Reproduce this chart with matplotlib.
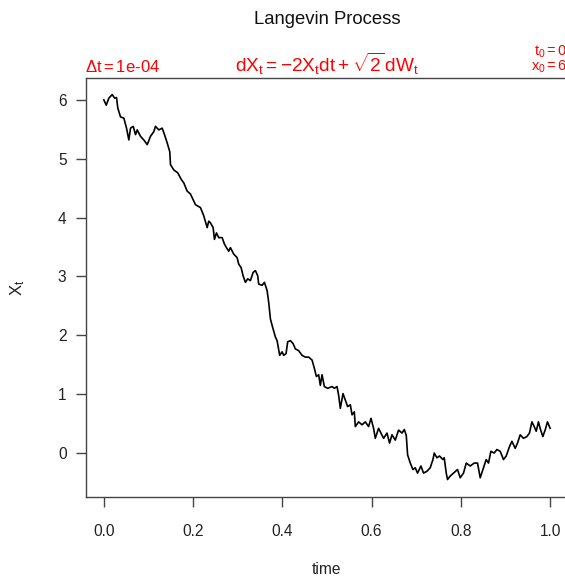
import matplotlib
matplotlib.use("Agg")
import matplotlib.pyplot as plt

plt.rcParams['font.family'] = ['Liberation Sans', 'DejaVu Sans']
plt.rcParams['mathtext.fontset'] = 'custom'
plt.rcParams['mathtext.rm'] = 'Liberation Sans'
plt.rcParams['mathtext.it'] = 'Liberation Sans'
plt.rcParams['mathtext.bf'] = 'Liberation Sans:bold'

# Simulated Langevin path (time, X_t)
time = [0.000, 0.0054, 0.0112, 0.0188, 0.0240, 0.0284, 0.0313, 0.0374, 0.0448, 0.0508,
        0.0560, 0.0598, 0.0658, 0.0710, 0.0748, 0.0822, 0.0895, 0.0972, 0.1045, 0.1119,
        0.1157, 0.1231, 0.1307, 0.1359, 0.1419, 0.1477, 0.1493, 0.1567, 0.1657, 0.1733,
        0.1791, 0.1867, 0.1941, 0.2053, 0.2165, 0.2239, 0.2315, 0.2351, 0.2389, 0.2449,
        0.2478, 0.2523, 0.2574, 0.2651, 0.2702, 0.2747, 0.2798, 0.2836, 0.2910, 0.2986,
        0.3022, 0.3076, 0.3121, 0.3172, 0.3224, 0.3284, 0.3345, 0.3396, 0.3448, 0.3470,
        0.3546, 0.3598, 0.3658, 0.3694, 0.3732, 0.3770, 0.3844, 0.3882, 0.3940, 0.3994,
        0.4030, 0.4083, 0.4119, 0.4180, 0.4240, 0.4291, 0.4365, 0.4441, 0.4515, 0.4589,
        0.4665, 0.4717, 0.4762, 0.4813, 0.4851, 0.4889, 0.4941, 0.5015, 0.5113, 0.5165,
        0.5225, 0.5261, 0.5299, 0.5359, 0.5411, 0.5462, 0.5523, 0.5561, 0.5612, 0.5635,
        0.5709, 0.5785, 0.5859, 0.5932, 0.5986, 0.6044, 0.6082, 0.6156, 0.6210, 0.6268,
        0.6344, 0.6402, 0.6456, 0.6530, 0.6604, 0.6680, 0.6732, 0.6776, 0.6806, 0.6866,
        0.6926, 0.6977, 0.7029, 0.7105, 0.7163, 0.7239, 0.7313, 0.7374, 0.7403, 0.7463,
        0.7521, 0.7598, 0.7627, 0.7672, 0.7701, 0.7761, 0.7835, 0.7925, 0.7985, 0.8059,
        0.8120, 0.8209, 0.8299, 0.8373, 0.8433, 0.8494, 0.8567, 0.8619, 0.8672, 0.8746,
        0.8807, 0.8881, 0.8955, 0.9016, 0.9089, 0.9143, 0.9217, 0.9269, 0.9329, 0.9403,
        0.9479, 0.9537, 0.9591, 0.9643, 0.9688, 0.9738, 0.9776, 0.9836, 0.9888, 0.9940,
        1.0000]
x_t = [6.00, 5.91, 6.03, 6.09, 6.03, 6.04, 5.86, 5.71, 5.69, 5.52,
       5.32, 5.52, 5.55, 5.41, 5.49, 5.38, 5.32, 5.24, 5.38, 5.46,
       5.55, 5.49, 5.52, 5.41, 5.27, 5.12, 4.90, 4.81, 4.76, 4.65,
       4.59, 4.45, 4.40, 4.22, 4.17, 4.03, 3.83, 3.94, 3.91, 3.83,
       3.63, 3.74, 3.66, 3.66, 3.55, 3.49, 3.43, 3.49, 3.38, 3.32,
       3.21, 3.15, 3.01, 2.90, 2.96, 2.93, 3.07, 3.10, 3.01, 2.87,
       2.85, 2.90, 2.76, 2.56, 2.28, 2.17, 1.97, 1.91, 1.66, 1.72,
       1.66, 1.69, 1.89, 1.91, 1.86, 1.77, 1.74, 1.66, 1.63, 1.63,
       1.58, 1.44, 1.30, 1.33, 1.15, 1.33, 1.13, 1.10, 1.13, 1.10,
       1.13, 0.98, 0.76, 1.01, 0.90, 0.79, 0.82, 0.65, 0.70, 0.45,
       0.53, 0.48, 0.53, 0.45, 0.59, 0.42, 0.25, 0.42, 0.34, 0.25,
       0.34, 0.17, 0.31, 0.22, 0.39, 0.34, 0.40, 0.30, -0.03, -0.17,
       -0.28, -0.25, -0.34, -0.22, -0.34, -0.31, -0.25, -0.11, 0.00, -0.08,
       -0.05, -0.11, -0.08, -0.34, -0.45, -0.39, -0.34, -0.28, -0.42, -0.34,
       -0.17, -0.22, -0.17, -0.17, -0.42, -0.28, -0.11, -0.17, 0.03, 0.00,
       0.06, 0.03, -0.11, -0.05, 0.11, 0.20, 0.08, 0.17, 0.31, 0.25,
       0.28, 0.34, 0.53, 0.45, 0.37, 0.53, 0.42, 0.28, 0.39, 0.53,
       0.42]

x_ticks = [0.0, 0.2, 0.4, 0.6, 0.8, 1.0]
x_tick_labels = ['0.0', '0.2', '0.4', '0.6', '0.8', '1.0']
y_ticks = [0, 1, 2, 3, 4, 5, 6]

fig = plt.figure(figsize=(5.65, 5.80), dpi=100)
ax = fig.add_axes([0.1522, 0.1436, 0.8531, 0.7219])

ax.plot(time, x_t, color='black', linewidth=1.2)

# R-style 4% padding around the data range
xmin, xmax = min(time), max(time)
ymin, ymax = min(x_t), max(x_t)
xpad = 0.04 * (xmax - xmin)
ypad = 0.04 * (ymax - ymin)
ax.set_xlim(xmin - xpad, xmax + xpad)
ax.set_ylim(ymin - ypad - 0.03, ymax + ypad + 0.02)

ax.set_xticks(x_ticks)
ax.set_xticklabels(x_tick_labels)
ax.set_yticks(y_ticks)
for s in ax.spines.values():
    s.set_color('#444444')
    s.set_linewidth(1.0)
ax.tick_params(axis='both', direction='out', length=7, width=1.0,
               color='#444444', labelsize=11.2, labelcolor='#222222')
ax.tick_params(axis='x', pad=13)
ax.tick_params(axis='y', pad=7)

ax.set_xlabel('time', fontsize=11.2, color='#222222', labelpad=16)
ax.set_ylabel(r'$\mathrm{X_t}$', fontsize=12, color='#222222', labelpad=22)

cx = 0.1522 + 0.8531 / 2
fig.text(cx, 0.966, 'Langevin Process', ha='center', va='center',
         fontsize=13.3, color='#111111')
fig.text(0.1505, 0.885, r'$\Delta\mathrm{t} = \mathrm{1e}$-$\mathrm{04}$', ha='left', va='center',
         fontsize=12, color='red')
fig.text(cx, 0.889, r'$\mathrm{dX_t = -2X_tdt + \sqrt{2}\,dW_t}$', ha='center', va='center',
         fontsize=13.7, color='red')
fig.text(1.005, 0.911, r'$\mathrm{t_0 = 0}$', ha='right', va='center',
         fontsize=10.5, color='red')
fig.text(1.005, 0.884, r'$\mathrm{x_0 = 6}$', ha='right', va='center',
         fontsize=10.5, color='red')

fig.savefig('out.png', dpi=100)
